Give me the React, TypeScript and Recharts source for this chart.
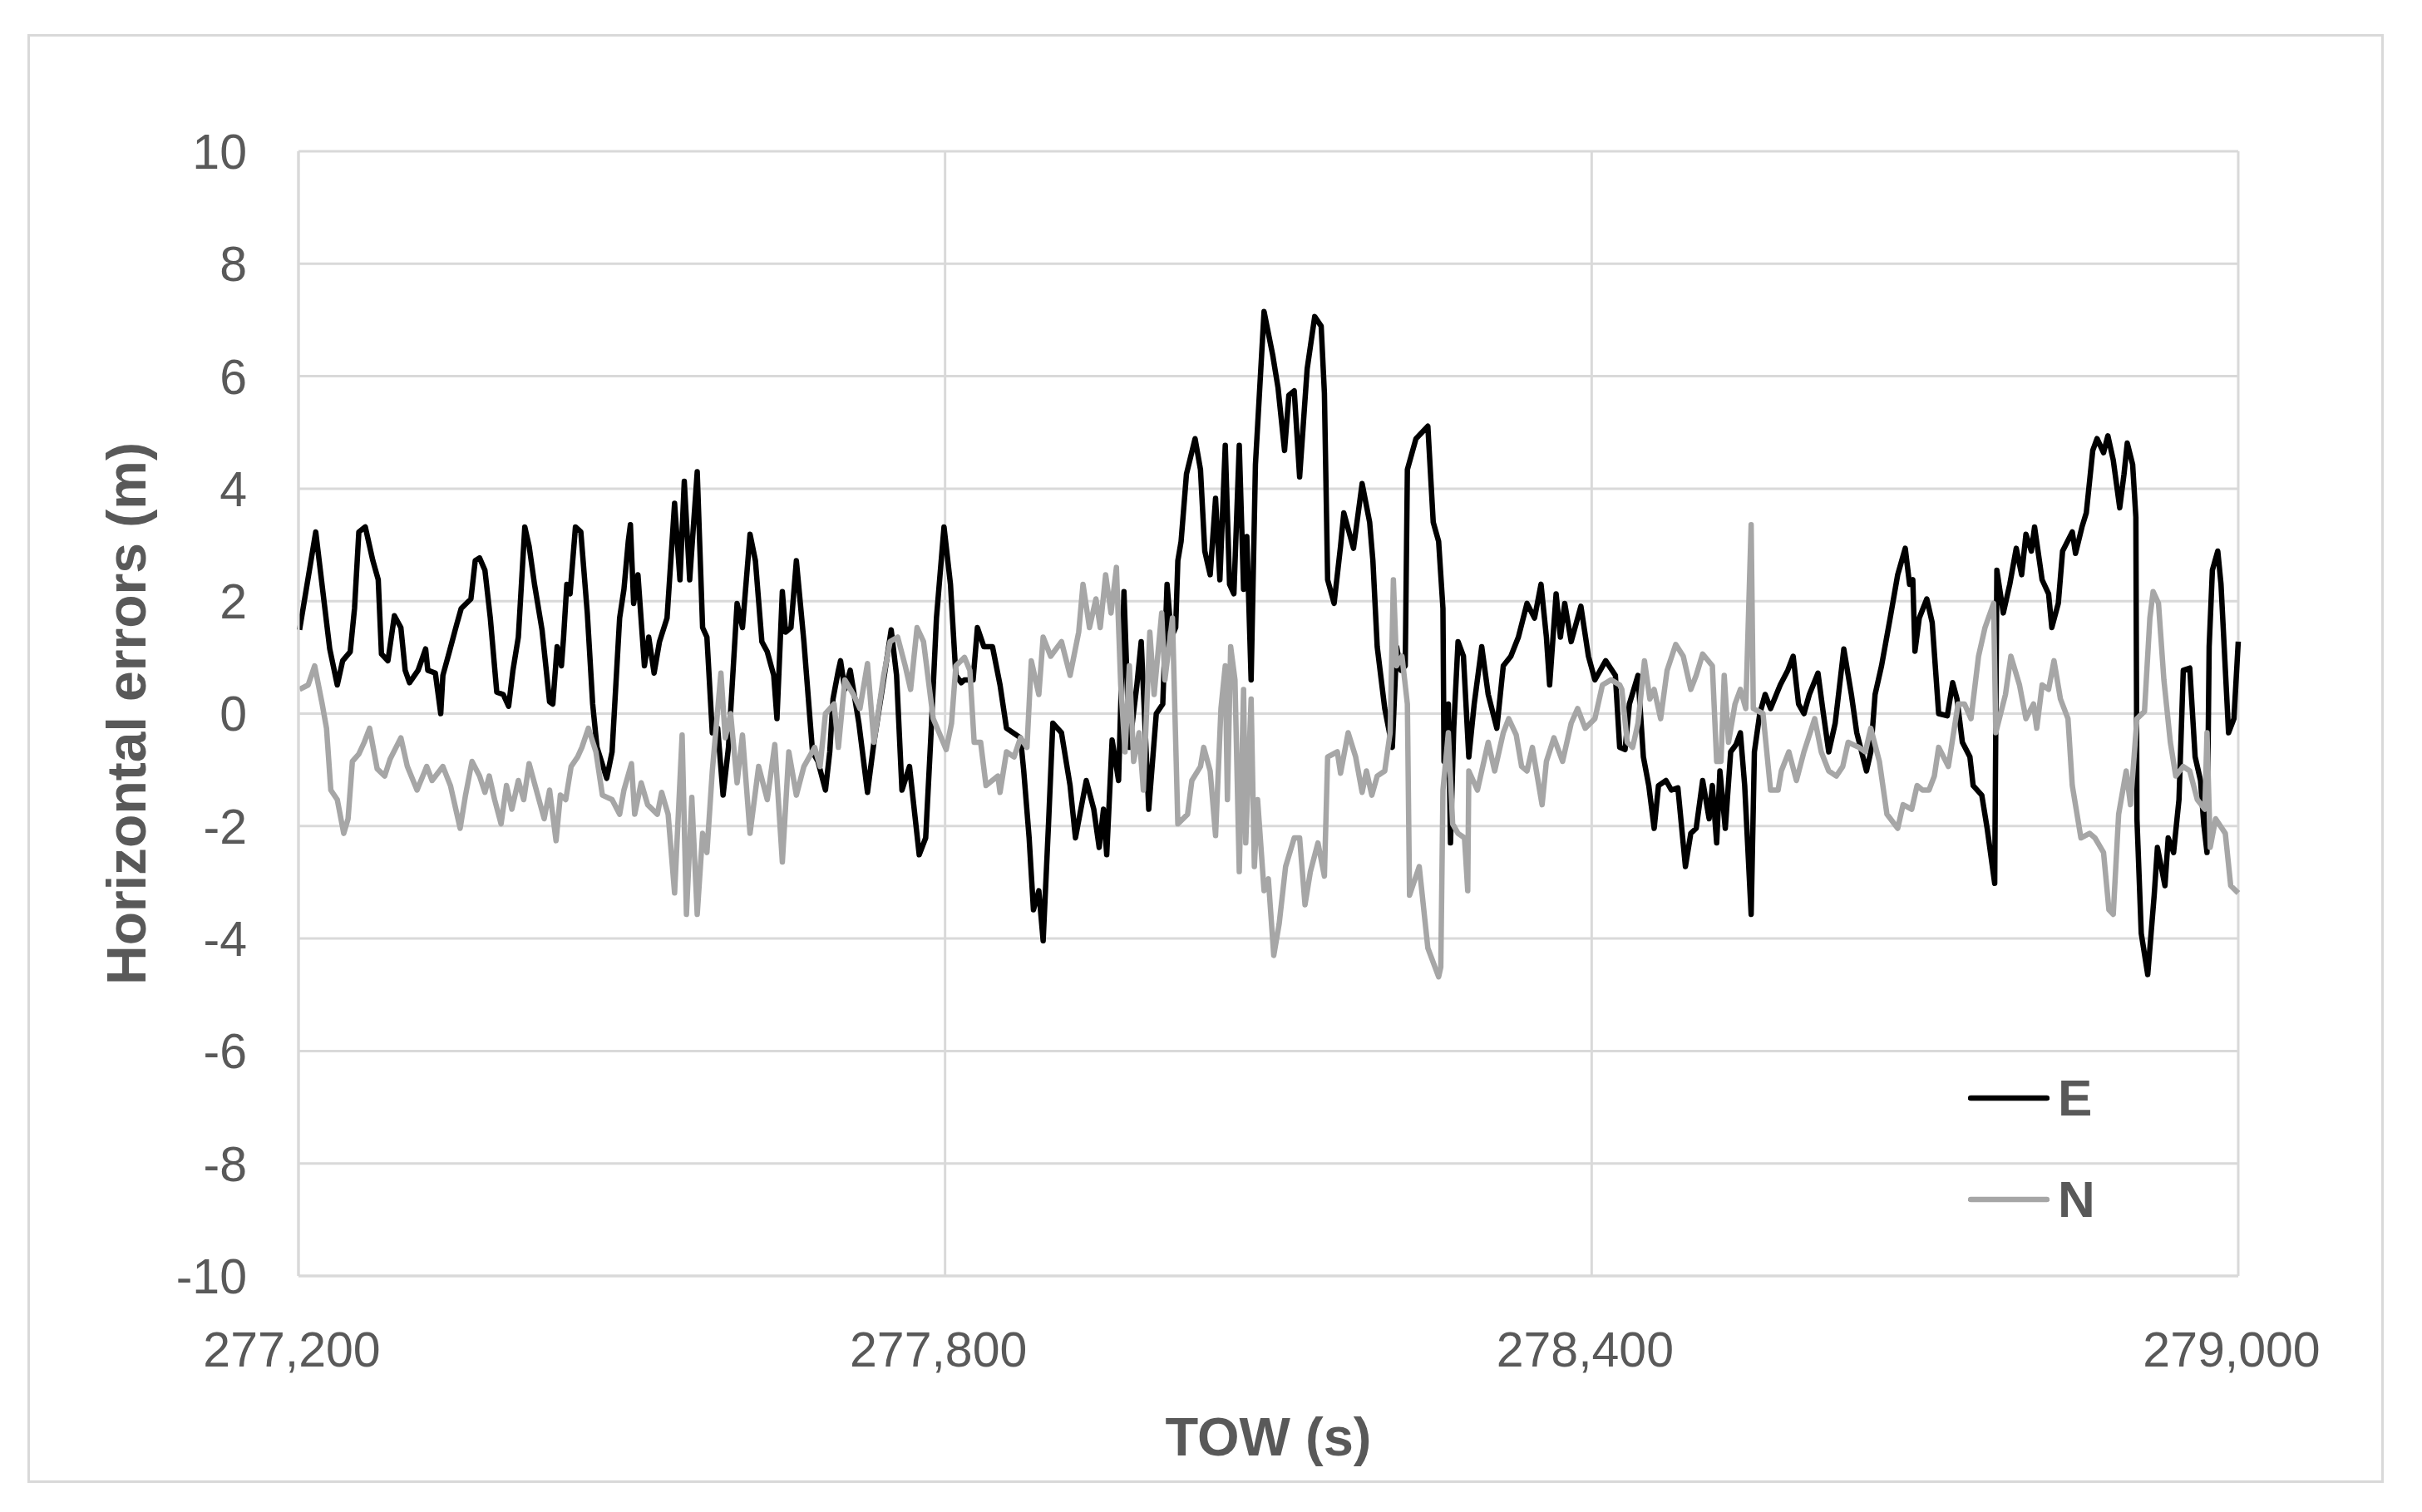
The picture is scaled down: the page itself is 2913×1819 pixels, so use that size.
import React from "react";
import { LineChart, Line, XAxis, YAxis, CartesianGrid, Label } from "recharts";

// TOW (s) / error (m) pairs
const eastSeries: [number, number][] = [
  [277201, 1.49], [277216, 3.23], [277229, 1.15], [277236, 0.51], [277241, 0.94], [277248, 1.1], [277252, 1.87], [277256, 3.23],
  [277262, 3.32], [277269, 2.72], [277274, 2.38], [277277, 1.06], [277283, 0.94], [277289, 1.74], [277295, 1.53], [277299, 0.77],
  [277303, 0.55], [277311, 0.77], [277318, 1.15], [277320, 0.77], [277327, 0.72], [277332, 0], [277334, 0.68], [277340, 1.1],
  [277347, 1.6], [277351, 1.87], [277360, 2.04], [277364, 2.72], [277368, 2.77], [277373, 2.55], [277378, 1.7], [277384, 0.38],
  [277390, 0.34], [277395, 0.13], [277399, 0.77], [277404, 1.36], [277410, 3.32], [277414, 2.98], [277419, 2.3], [277426, 1.49],
  [277433, 0.21], [277436, 0.17], [277440, 1.19], [277444, 0.85], [277446, 1.36], [277449, 2.3], [277452, 2.13], [277457, 3.32],
  [277462, 3.23], [277468, 1.79], [277473, 0.17], [277477, -0.6], [277486, -1.15], [277491, -0.68], [277498, 1.7], [277502, 2.21],
  [277506, 3.06], [277508, 3.36], [277511, 1.96], [277515, 2.47], [277521, 0.85], [277525, 1.36], [277530, 0.72], [277535, 1.28],
  [277542, 1.7], [277549, 3.74], [277554, 2.38], [277558, 4.13], [277563, 2.38], [277570, 4.3], [277575, 1.53], [277579, 1.36],
  [277584, -0.34], [277589, -0.26], [277594, -1.45], [277599, -0.6], [277607, 1.96], [277612, 1.53], [277619, 3.19], [277624, 2.72],
  [277630, 1.28], [277635, 1.1], [277641, 0.68], [277644, -0.09], [277649, 2.17], [277652, 1.45], [277657, 1.53], [277662, 2.72],
  [277669, 1.28], [277677, -0.68], [277682, -0.85], [277689, -1.36], [277693, -0.68], [277696, 0.26], [277701, 0.77], [277703, 0.94],
  [277707, 0.43], [277712, 0.77], [277720, -0.17], [277728, -1.4], [277734, -0.51], [277743, 0.6], [277750, 1.49], [277755, 0.68],
  [277760, -1.36], [277767, -0.94], [277776, -2.51], [277782, -2.21], [277787, -0.34], [277792, 1.7], [277799, 3.32], [277805, 2.3],
  [277810, 0.68], [277815, 0.55], [277818, 0.6], [277826, 0.6], [277830, 1.53], [277836, 1.19], [277844, 1.19], [277851, 0.51],
  [277857, -0.26], [277870, -0.43], [277873, -1.02], [277878, -2.21], [277882, -3.49], [277887, -3.15], [277891, -4.04], [277896, -1.96],
  [277900, -0.17], [277908, -0.34], [277916, -1.28], [277921, -2.21], [277931, -1.19], [277938, -1.7], [277943, -2.38], [277947, -1.7],
  [277950, -2.51], [277955, -0.47], [277961, -1.19], [277966, 2.17], [277971, -0.6], [277978, 0.51], [277982, 1.28], [277989, -1.7],
  [277996, 0], [278002, 0.17], [278006, 2.3], [278010, 1.36], [278014, 1.53], [278016, 2.72], [278019, 3.06], [278024, 4.26],
  [278032, 4.89], [278037, 4.34], [278041, 2.89], [278046, 2.47], [278051, 3.83], [278055, 2.38], [278060, 4.77], [278064, 2.3],
  [278068, 2.13], [278073, 4.77], [278077, 2.21], [278080, 3.15], [278084, 0.6], [278088, 4.43], [278096, 7.15], [278104, 6.38],
  [278109, 5.79], [278115, 4.68], [278119, 5.66], [278124, 5.74], [278129, 4.21], [278136, 6.13], [278143, 7.06], [278149, 6.89],
  [278152, 5.7], [278155, 2.38], [278161, 1.96], [278167, 2.98], [278170, 3.57], [278179, 2.94], [278187, 4.09], [278194, 3.4],
  [278197, 2.72], [278201, 1.19], [278208, 0.09], [278215, -0.6], [278219, 1.19], [278223, 0.77], [278227, 0.85], [278229, 4.34],
  [278237, 4.89], [278248, 5.11], [278253, 3.4], [278258, 3.06], [278262, 1.87], [278263, -0.85], [278267, 0.17], [278269, -2.3],
  [278272, -0.26], [278276, 1.28], [278281, 1.02], [278286, -0.77], [278291, 0.17], [278298, 1.19], [278304, 0.34], [278312, -0.26],
  [278318, 0.85], [278325, 1.02], [278332, 1.36], [278340, 1.96], [278347, 1.7], [278353, 2.3], [278358, 1.36], [278361, 0.51],
  [278367, 2.13], [278371, 1.36], [278375, 1.96], [278381, 1.28], [278390, 1.91], [278397, 1.02], [278403, 0.6], [278413, 0.94],
  [278422, 0.68], [278426, -0.6], [278431, -0.64], [278435, 0.17], [278443, 0.68], [278448, -0.77], [278453, -1.28], [278458, -2.04],
  [278462, -1.28], [278469, -1.19], [278474, -1.36], [278480, -1.32], [278487, -2.72], [278492, -2.13], [278497, -2.04], [278503, -1.19],
  [278509, -1.87], [278512, -1.28], [278516, -2.3], [278519, -1.02], [278524, -2.04], [278529, -0.68], [278534, -0.55], [278538, -0.34],
  [278542, -1.28], [278548, -3.57], [278551, -0.68], [278556, 0], [278561, 0.34], [278566, 0.09], [278575, 0.51], [278582, 0.77],
  [278587, 1.02], [278592, 0.17], [278597, 0], [278602, 0.34], [278610, 0.72], [278615, 0], [278620, -0.68], [278626, -0.17],
  [278634, 1.15], [278641, 0.34], [278646, -0.34], [278655, -1.02], [278659, -0.68], [278663, 0.34], [278669, 0.85], [278677, 1.7],
  [278684, 2.47], [278691, 2.94], [278695, 2.3], [278698, 2.38], [278700, 1.11], [278704, 1.7], [278711, 2.04], [278716, 1.62],
  [278722, 0], [278730, -0.04], [278735, 0.55], [278739, 0.26], [278744, -0.51], [278751, -0.77], [278754, -1.28], [278762, -1.45],
  [278767, -2.04], [278774, -3.02], [278776, 2.55], [278782, 1.79], [278788, 2.3], [278794, 2.94], [278799, 2.47], [278803, 3.19],
  [278808, 2.89], [278811, 3.32], [278818, 2.38], [278824, 2.13], [278827, 1.53], [278833, 1.96], [278837, 2.89], [278846, 3.23],
  [278849, 2.85], [278855, 3.32], [278859, 3.57], [278865, 4.68], [278869, 4.89], [278875, 4.64], [278879, 4.94], [278884, 4.51],
  [278890, 3.66], [278894, 4.26], [278897, 4.81], [278902, 4.43], [278905, 3.49], [278906, -1.87], [278910, -3.91], [278916, -4.64],
  [278922, -3.23], [278925, -2.38], [278932, -3.06], [278935, -2.21], [278940, -2.47], [278945, -1.53], [278949, 0.77], [278955, 0.81],
  [278960, -0.77], [278965, -1.19], [278968, -1.96], [278971, -2.47], [278973, 1.19], [278976, 2.55], [278981, 2.89], [278984, 2.3],
  [278991, -0.34], [278996, -0.09], [279000, 1.28],
];

const northSeries: [number, number][] = [
  [277201, 0.43], [277209, 0.51], [277215, 0.85], [277222, 0.17], [277226, -0.26], [277230, -1.36], [277236, -1.53], [277242, -2.13],
  [277246, -1.87], [277250, -0.85], [277256, -0.72], [277261, -0.51], [277266, -0.26], [277273, -0.98], [277280, -1.11], [277285, -0.81],
  [277295, -0.43], [277301, -0.94], [277310, -1.36], [277319, -0.94], [277324, -1.19], [277334, -0.94], [277341, -1.28], [277350, -2.04],
  [277355, -1.45], [277361, -0.85], [277368, -1.11], [277373, -1.4], [277377, -1.11], [277382, -1.53], [277388, -1.96], [277393, -1.28],
  [277398, -1.7], [277404, -1.19], [277409, -1.53], [277414, -0.89], [277422, -1.45], [277428, -1.87], [277433, -1.36], [277439, -2.26],
  [277443, -1.45], [277448, -1.53], [277453, -0.94], [277459, -0.77], [277463, -0.6], [277469, -0.26], [277476, -0.68], [277482, -1.45],
  [277491, -1.53], [277498, -1.79], [277502, -1.36], [277509, -0.89], [277512, -1.79], [277518, -1.23], [277524, -1.62], [277533, -1.79],
  [277537, -1.4], [277543, -1.79], [277549, -3.19], [277556, -0.38], [277560, -3.57], [277565, -1.49], [277570, -3.57], [277575, -2.13],
  [277579, -2.47], [277584, -1.02], [277592, 0.72], [277596, -0.43], [277601, 0], [277607, -1.23], [277612, -0.38], [277619, -2.13],
  [277627, -0.94], [277635, -1.53], [277642, -0.55], [277649, -2.64], [277655, -0.68], [277662, -1.45], [277669, -0.94], [277679, -0.6],
  [277684, -0.94], [277689, 0], [277697, 0.17], [277701, -0.6], [277707, 0.6], [277715, 0.34], [277721, 0.09], [277728, 0.89],
  [277734, -0.51], [277743, 0.68], [277749, 1.28], [277756, 1.36], [277763, 0.85], [277768, 0.43], [277774, 1.53], [277780, 1.28],
  [277789, -0.09], [277801, -0.64], [277806, -0.17], [277810, 0.85], [277818, 1.0], [277823, 0.77], [277827, -0.51], [277833, -0.51],
  [277838, -1.28], [277849, -1.11], [277851, -1.4], [277857, -0.68], [277864, -0.77], [277870, -0.43], [277876, -0.6], [277880, 0.94],
  [277887, 0.34], [277891, 1.36], [277898, 1.02], [277908, 1.28], [277916, 0.68], [277924, 1.45], [277928, 2.3], [277934, 1.53],
  [277940, 2.04], [277944, 1.53], [277949, 2.47], [277954, 1.79], [277959, 2.6], [277963, 0.51], [277967, -0.68], [277971, 0.85],
  [277975, -0.85], [277980, -0.34], [277984, -1.36], [277990, 1.45], [277994, 0.34], [278001, 1.79], [278004, 0.6], [278011, 1.7],
  [278016, -1.96], [278025, -1.79], [278029, -1.19], [278037, -0.94], [278040, -0.6], [278046, -1.02], [278051, -2.17], [278056, 0.09],
  [278060, 0.85], [278062, -1.53], [278065, 1.19], [278069, 0.6], [278073, -2.81], [278077, 0.43], [278079, -2.3], [278084, 0.26],
  [278087, -2.72], [278090, -1.53], [278096, -3.15], [278100, -2.94], [278105, -4.3], [278110, -3.74], [278116, -2.72], [278124, -2.21],
  [278129, -2.21], [278134, -3.4], [278139, -2.81], [278146, -2.3], [278152, -2.89], [278155, -0.77], [278164, -0.68], [278167, -1.06],
  [278174, -0.34], [278181, -0.77], [278187, -1.4], [278191, -1.02], [278196, -1.45], [278201, -1.11], [278208, -1.02], [278213, -0.34],
  [278216, 2.38], [278219, 0.85], [278224, 1.02], [278229, 0.17], [278231, -3.23], [278240, -2.72], [278248, -4.17], [278258, -4.68],
  [278260, -4.51], [278262, -1.36], [278267, -0.34], [278271, -1.96], [278276, -2.13], [278282, -2.21], [278285, -3.15], [278286, -1.02],
  [278294, -1.36], [278304, -0.51], [278310, -1.02], [278318, -0.34], [278323, -0.09], [278330, -0.38], [278335, -0.94], [278340, -1.02],
  [278345, -0.6], [278354, -1.62], [278358, -0.85], [278365, -0.43], [278373, -0.85], [278381, -0.17], [278387, 0.09], [278394, -0.26],
  [278403, -0.09], [278410, 0.51], [278418, 0.6], [278426, 0.51], [278428, 0.43], [278433, -0.51], [278438, -0.6], [278443, -0.17],
  [278449, 0.94], [278454, 0.26], [278458, 0.43], [278464, -0.09], [278470, 0.77], [278478, 1.23], [278485, 1.02], [278492, 0.43],
  [278497, 0.68], [278503, 1.06], [278512, 0.85], [278516, -0.85], [278520, -0.85], [278523, 0.68], [278527, -0.51], [278533, 0.17],
  [278538, 0.43], [278543, 0.09], [278548, 3.36], [278550, 0.09], [278559, 0], [278566, -1.36], [278573, -1.36], [278576, -1.02],
  [278583, -0.68], [278590, -1.19], [278597, -0.68], [278607, -0.09], [278613, -0.68], [278620, -1.02], [278627, -1.11], [278633, -0.94],
  [278638, -0.51], [278648, -0.6], [278654, -0.68], [278659, -0.26], [278667, -0.85], [278674, -1.79], [278684, -2.04], [278689, -1.62],
  [278697, -1.7], [278702, -1.28], [278707, -1.36], [278713, -1.36], [278718, -1.11], [278722, -0.6], [278731, -0.94], [278740, 0.17],
  [278746, 0.17], [278752, -0.09], [278759, 1.02], [278765, 1.53], [278773, 1.96], [278775, -0.34], [278784, 0.34], [278789, 1.02],
  [278797, 0.51], [278803, -0.09], [278810, 0.17], [278813, -0.26], [278818, 0.51], [278824, 0.43], [278829, 0.94], [278835, 0.26],
  [278842, -0.09], [278846, -1.28], [278854, -2.21], [278862, -2.13], [278867, -2.21], [278875, -2.47], [278880, -3.49], [278884, -3.57],
  [278889, -1.79], [278896, -1.02], [278900, -1.62], [278906, -0.09], [278913, 0.04], [278918, 1.7], [278921, 2.17], [278926, 1.96],
  [278931, 0.6], [278937, -0.51], [278942, -1.11], [278949, -0.94], [278955, -1.02], [278962, -1.53], [278969, -1.7], [278971, -0.34],
  [278974, -2.38], [278979, -1.87], [278988, -2.13], [278993, -3.06], [279000, -3.19],
];

const xTicks = [277200, 277800, 278400, 279000];
const yTicks = [-10, -8, -6, -4, -2, 0, 2, 4, 6, 8, 10];

const seriesInfo = [
  { name: "E", color: "#000000", points: eastSeries },
  { name: "N", color: "#a6a6a6", points: northSeries },
];

const FONT = '"Liberation Sans", Arial, sans-serif';
const TEXT = "#595959";
const GRID = "#d9d9d9";

const toRows = (pts: [number, number][]) => pts.map(([tow, err]) => ({ tow, err }));

const App: React.FC = () => {
  return (
    <div style={{ position: "absolute", left: 0, top: 0, width: 2913, height: 1819, background: "#fff" }}>
      <div
        style={{
          position: "absolute",
          left: 33,
          top: 41,
          width: 2834,
          height: 1743,
          boxSizing: "border-box",
          border: `3px solid ${GRID}`,
        }}
      />
      <div style={{ position: "absolute", left: 0, top: 0 }}>
        <LineChart width={2913} height={1819} margin={{ top: 182, right: 221, left: 0, bottom: 0 }}>
          <CartesianGrid stroke={GRID} strokeWidth={3} />
          <XAxis
            type="number"
            dataKey="tow"
            domain={[277200, 279000]}
            ticks={xTicks}
            height={284}
            tickLine={false}
            tickSize={0}
            tickMargin={67}
            stroke={GRID}
            strokeWidth={3}
            tick={{ fill: TEXT, fontSize: 59, fontFamily: FONT, dx: -8 }}
            tickFormatter={(v: number) => v.toLocaleString("en-US")}
          >
            <Label
              content={({ viewBox }: any) => (
                <text
                  x={viewBox.x + viewBox.width / 2}
                  y={viewBox.y + 193}
                  textAnchor="middle"
                  dominantBaseline="central"
                  fill={TEXT}
                  fontSize={65}
                  fontWeight="bold"
                  fontFamily={FONT}
                >
                  TOW (s)
                </text>
              )}
            />
          </XAxis>
          <YAxis
            type="number"
            domain={[-10, 10]}
            ticks={yTicks}
            width={359}
            tickLine={false}
            tickSize={0}
            tickMargin={62}
            stroke={GRID}
            strokeWidth={3}
            tick={{ fill: TEXT, fontSize: 59, fontFamily: FONT }}
          >
            <Label
              content={({ viewBox }: any) => {
                const cx = viewBox.x + 152;
                const cy = viewBox.y + viewBox.height / 2;
                return (
                  <text
                    x={cx}
                    y={cy}
                    transform={`rotate(-90, ${cx}, ${cy})`}
                    textAnchor="middle"
                    dominantBaseline="central"
                    fill={TEXT}
                    fontSize={66}
                    fontWeight="bold"
                    fontFamily={FONT}
                  >
                    Horizontal errors (m)
                  </text>
                );
              }}
            />
          </YAxis>
          {seriesInfo.map((s) => (
            <Line
              key={s.name}
              name={s.name}
              data={toRows(s.points)}
              dataKey="err"
              type="linear"
              stroke={s.color}
              strokeWidth={6.5}
              strokeLinejoin="round"
              dot={false}
              activeDot={false}
              isAnimationActive={false}
            />
          ))}
        </LineChart>
      </div>
      <div style={{ position: "absolute", left: 2367, top: 1260, fontFamily: FONT }}>
        {seriesInfo.map((s) => (
          <div key={s.name} style={{ display: "flex", alignItems: "center", height: 122 }}>
            <svg width={98} height={8} style={{ display: "block" }}>
              <line x1={3} y1={4} x2={95} y2={4} stroke={s.color} strokeWidth={6.5} strokeLinecap="round" />
            </svg>
            <span
              style={{ marginLeft: 10, fontSize: 62, fontWeight: "bold", color: TEXT, lineHeight: 1 }}
            >
              {s.name}
            </span>
          </div>
        ))}
      </div>
    </div>
  );
};

export default App;
